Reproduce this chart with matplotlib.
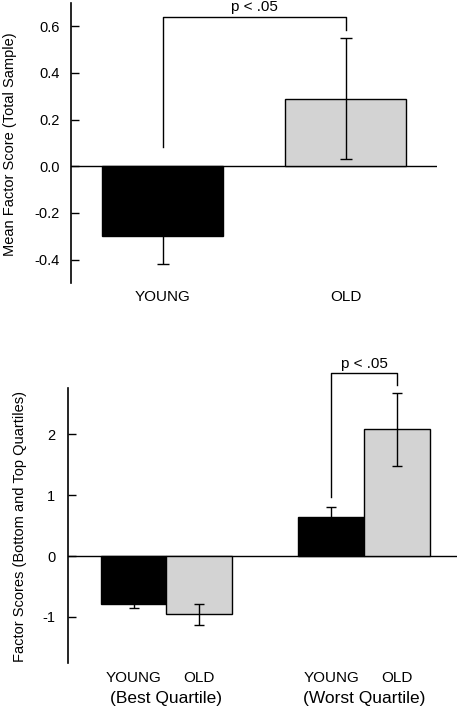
import matplotlib
matplotlib.use("Agg")
import matplotlib.pyplot as plt
import numpy as np

plt.rcParams['font.family'] = ['Liberation Sans', 'DejaVu Sans']

# Top panel data
top_groups = ["YOUNG", "OLD"]
top_means = [-0.30, 0.29]
top_err = [0.12, 0.26]
top_ylabel = "Mean Factor Score (Total Sample)"
top_yticks = [-0.4, -0.2, 0.0, 0.2, 0.4, 0.6]
top_yticklabels = ["-0.4", "-0.2", "0.0", "0.2", "0.4", "0.6"]

# Bottom panel data
quartiles = ["(Best Quartile)", "(Worst Quartile)"]
young_means = [-0.79, 0.645]
young_err = [0.065, 0.165]
old_means = [-0.955, 2.075]
old_err = [0.17, 0.60]
bot_ylabel = "Factor Scores (Bottom and Top Quartiles)"
bot_yticks = [-1, 0, 1, 2]
sig_text = "p < .05"

BLACK = "#000000"
GRAY = "#d3d3d3"
LW = 1.0

fig = plt.figure(figsize=(4.57, 7.08), dpi=100)

# ---------- Top panel ----------
ax1 = fig.add_axes([0.1554, 0.6003, 0.8009, 0.3955])
x1 = np.arange(len(top_groups))
w1 = 0.66
ax1.bar(x1, top_means, width=w1, color=[BLACK, GRAY], edgecolor=BLACK, linewidth=LW, zorder=2)
ax1.errorbar(x1, top_means, yerr=top_err, fmt='none', ecolor=BLACK, elinewidth=LW,
             capsize=4, capthick=LW, zorder=3)
ax1.axhline(0, color=BLACK, linewidth=LW, zorder=1)
ax1.set_xlim(-0.5, 1.5)
ax1.set_ylim(-0.5, 0.7)
ax1.set_yticks(top_yticks)
ax1.set_yticklabels(top_yticklabels, fontsize=10.5)
ax1.set_xticks([])
for s in ["top", "right", "bottom"]:
    ax1.spines[s].set_visible(False)
ax1.spines["left"].set_linewidth(1.2)
ax1.tick_params(axis='y', direction='in', length=6, width=LW, pad=8)
ax1.set_ylabel(top_ylabel, fontsize=10.5)
ax1.yaxis.set_label_coords(-0.1475, 0.495)
for xi, g in zip(x1, top_groups):
    ax1.text(xi, -0.56, g, ha='center', va='center', fontsize=11, clip_on=False)
# significance bracket
ax1.plot([x1[0], x1[0], x1[1], x1[1]], [0.083, 0.642, 0.642, 0.585], color=BLACK,
         linewidth=LW, clip_on=False)
ax1.text((x1[0] + x1[1]) / 2, 0.652, sig_text, ha='center', va='bottom', fontsize=11, clip_on=False)

# ---------- Bottom panel ----------
ax2 = fig.add_axes([0.1481, 0.0631, 0.8519, 0.3893])
xg = np.arange(len(quartiles))
w2 = 0.333
xy = xg - w2 / 2
xo = xg + w2 / 2
ax2.bar(xy, young_means, width=w2, color=BLACK, edgecolor=BLACK, linewidth=LW, zorder=2)
ax2.bar(xo, old_means, width=w2, color=GRAY, edgecolor=BLACK, linewidth=LW, zorder=2)
ax2.errorbar(xy, young_means, yerr=young_err, fmt='none', ecolor=BLACK, elinewidth=LW,
             capsize=3.5, capthick=LW, zorder=3)
ax2.errorbar(xo, old_means, yerr=old_err, fmt='none', ecolor=BLACK, elinewidth=LW,
             capsize=3.5, capthick=LW, zorder=3)
ax2.axhline(0, color=BLACK, linewidth=LW, zorder=1)
ax2.set_xlim(-0.5, 1.47)
ax2.set_ylim(-1.76, 2.76)
ax2.set_yticks(bot_yticks)
ax2.set_yticklabels([str(t) for t in bot_yticks], fontsize=10.5)
ax2.set_xticks([])
for s in ["top", "right", "bottom"]:
    ax2.spines[s].set_visible(False)
ax2.spines["left"].set_linewidth(1.2)
ax2.tick_params(axis='y', direction='in', length=6, width=LW, pad=9)
ax2.set_ylabel(bot_ylabel, fontsize=10.5)
ax2.yaxis.set_label_coords(-0.1045, 0.495)
for i, q in enumerate(quartiles):
    ax2.text(xy[i], -2.0, "YOUNG", ha='center', va='center', fontsize=11, clip_on=False)
    ax2.text(xo[i], -2.0, "OLD", ha='center', va='center', fontsize=11, clip_on=False)
    ax2.text(xg[i], -2.33, q, ha='center', va='center', fontsize=12.5, clip_on=False)
ax2.plot([xy[1], xy[1], xo[1], xo[1]], [0.96, 3.0, 3.0, 2.80], color=BLACK,
         linewidth=LW, clip_on=False)
ax2.text(xg[1], 3.03, sig_text, ha='center', va='bottom', fontsize=11, clip_on=False)

fig.savefig("out.png", dpi=100)
